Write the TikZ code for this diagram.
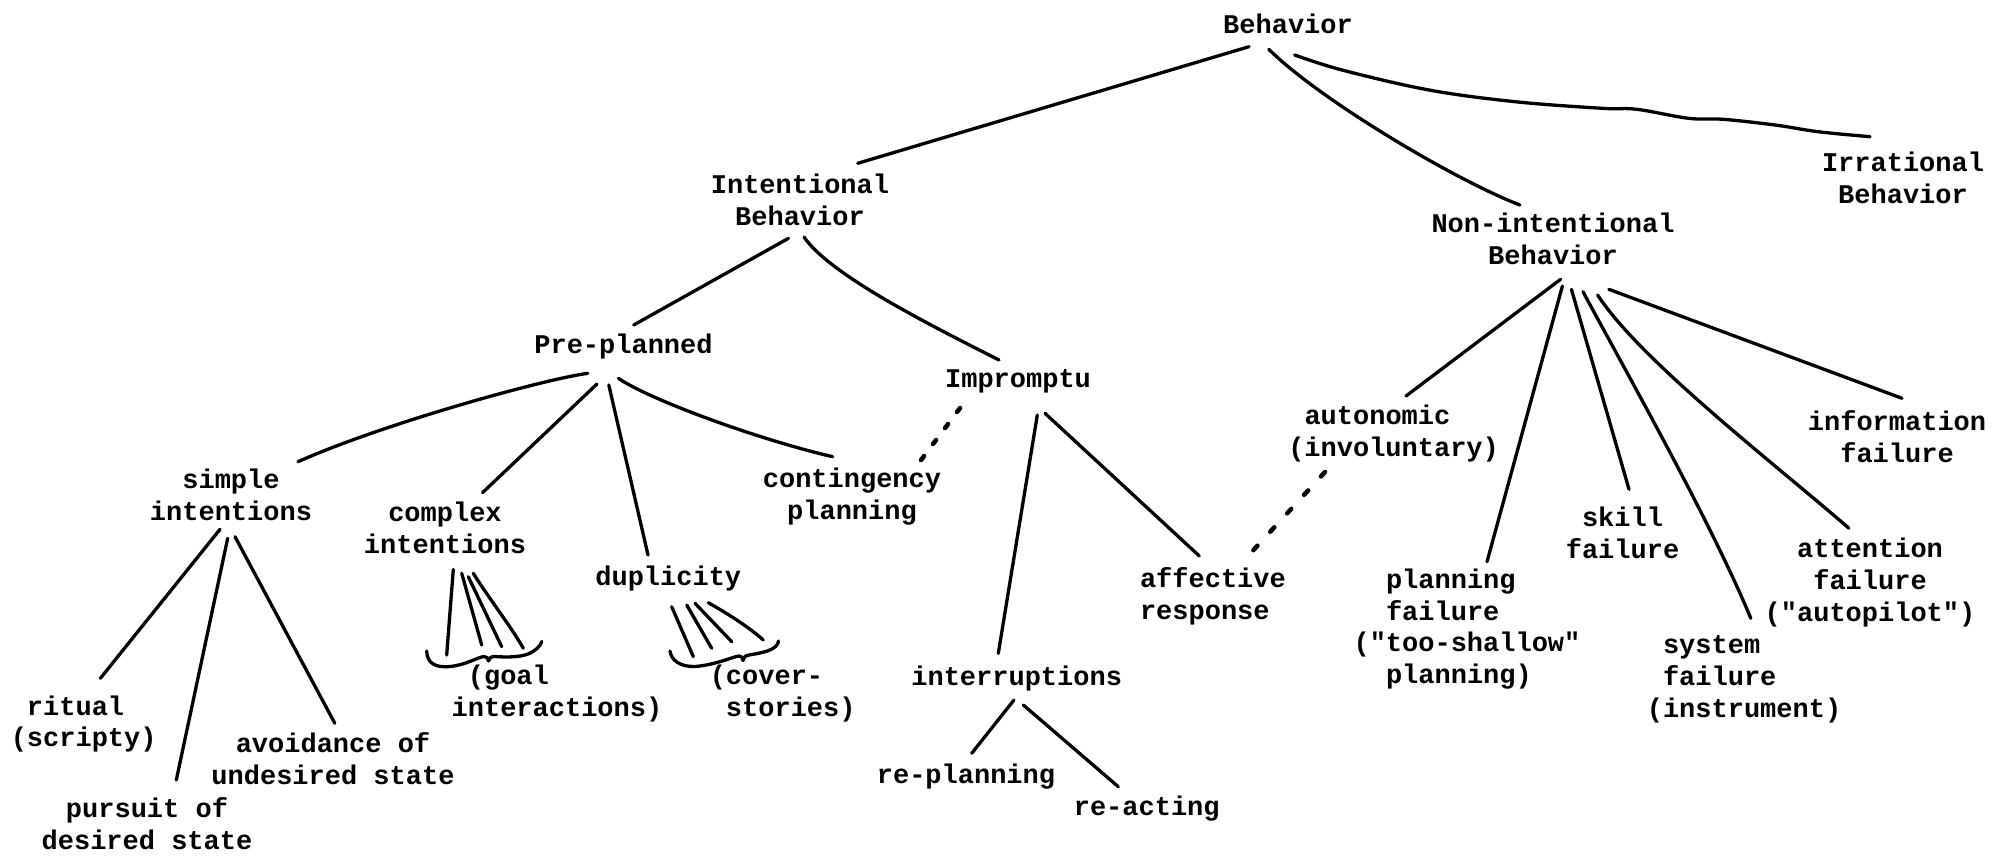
\documentclass[tikz,border=0pt]{standalone}
\usepackage{fontspec}
\newfontfamily\tw{Liberation Mono}
\usetikzlibrary{calc}
\begin{document}
\begin{tikzpicture}[x=1pt,y=-1pt,
  lbl/.style={inner sep=0pt, font=\tw\bfseries\fontsize{27}{31.7}\selectfont, align=center},
  lbll/.style={lbl, align=left},
  edge/.style={line width=3.3pt, line cap=round, line join=round},
  dots/.style={line width=4.5pt, line cap=round, dash pattern=on 5pt off 16pt},
  brc/.style={line width=3.3pt, line cap=round, line join=round}]
\useasboundingbox (0,0) rectangle (2007,856);
% nodes
\node[lbl] (B) at (1288,24) {Behavior};
\node[lbl] (IB) at (800,200) {Intentional\\Behavior};
\node[lbl] (IR) at (1903,177.5) {Irrational\\Behavior};
\node[lbl] (NI) at (1553,238.5) {Non-intentional\\Behavior};
\node[lbl] (PP) at (623.5,346.7) {Pre-planned};
\node[lbl] (IM) at (1018,381.7) {Impromptu};
\node[lbl] (SI) at (231,495) {simple\\intentions};
\node[lbl] (CI) at (445,527.5) {complex\\intentions};
\node[lbl] (CP) at (852,496.7) {contingency\\planning};
\node[lbl] (DU) at (668.3,578.3) {duplicity};
\node[lbll] (GI) at (557,693.3) {\phantom{i}(goal\\interactions)};
\node[lbll] (CS) at (790.8,693.3) {\llap{(}cover-\\stories)};
\node[lbll] (RS) at (91.8,724) {ritual\\\llap{(}scripty)};
\node[lbl] (AV) at (333,758.3) {avoidance of\\undesired state};
\node[lbl] (PU) at (147,823.3) {pursuit of\\desired state};
\node[lbl] (INT) at (1016.7,678.3) {interruptions};
\node[lbll] (AF) at (1212.9,596) {affective\\response};
\node[lbl] (RP) at (966,776.7) {re-planning};
\node[lbl] (RA) at (1146.7,808.3) {re-acting};
\node[lbll] (AU) at (1401.7,433.3) {autonomic\\\llap{(}involuntary)};
\node[lbll] (PF) at (1483.2,629.2) {planning\\failure\\\llap{("}too-shallow"\\planning)};
\node[lbl] (SK) at (1622.5,532.5) {skill\\failure};
\node[lbll] (SY) at (1752.1,679.2) {system\\failure\\\llap{(}instrument)};
\node[lbl] (AT) at (1870,582.5) {attention\\failure\\("autopilot")};
\node[lbl] (IF) at (1897,436.7) {information\\failure};
% top level
\draw[edge] ($(B)+(-39,22.7)$) -- ($(IB)+(57.7,-36.7)$);
\draw[edge] ($(B)+(-19.2,25.3)$) .. controls (1320,100) and (1455,180) .. ($(NI)+(-33.2,-33.5)$);
\coordinate (irS) at ($(B)+(6.7,31)$);
\coordinate (irE) at ($(IR)+(-33,-40.8)$);
\draw[edge] plot[smooth, tension=0.6] coordinates {(irS) (1342,70) (1429,90) (1515,101.7) (1602,108.3) (1636.6,109.3) (1688.5,118.3) (1723,119.3) (1775,125) (1818,131.7) (irE)};
% intentional
\draw[edge] ($(IB)+(-11.5,38.3)$) -- ($(PP)+(10.2,-21.7)$);
\draw[edge] ($(IB)+(4,37)$) .. controls (830,275) and (930,325) .. ($(IM)+(-19,-21.7)$);
% pre-planned
\draw[edge] ($(PP)+(-35.7,26.6)$) .. controls (540,380) and (380,425) .. ($(SI)+(67,-33.3)$);
\draw[edge] ($(PP)+(-26.5,37.3)$) -- ($(CI)+(37.5,-34.8)$);
\draw[edge] ($(PP)+(-14.7,38.3)$) -- ($(DU)+(-20.3,-23.3)$);
\draw[edge] ($(PP)+(-5.1,31.6)$) .. controls (650,400) and (760,440) .. ($(CP)+(-19.3,-40)$);
\draw[dots, dash pattern=on 5pt off 15pt] ($(IM)+(-58,26.3)$) -- ($(CP)+(69,-36.7)$);
% simple intentions
\draw[edge] ($(SI)+(-11,34.3)$) -- ($(RS)+(8.6,-45.7)$);
\draw[edge] ($(SI)+(-3.3,43.3)$) -- ($(PU)+(29.3,-43.3)$);
\draw[edge] ($(SI)+(4,41.7)$) -- ($(AV)+(1.8,-35)$);
% complex intentions
\draw[edge] ($(CI)+(8.3,42)$) -- ($(GI)+(-110.3,-38.3)$);
\draw[edge] ($(CI)+(16.7,45.8)$) -- ($(GI)+(-75.3,-48.3)$);
\draw[edge] ($(CI)+(23.3,49.2)$) -- ($(GI)+(-55.3,-46.6)$);
\draw[edge] ($(CI)+(28.3,45.8)$) .. controls (490,600) and (510,625) .. ($(GI)+(-33.7,-45)$);
\draw[brc] (426.7,651) .. controls (427,663) and (435,668) .. (450,666.5)
  .. controls (466,665) and (478,657) .. (484,656.5)
  .. controls (486.5,656.5) and (488,658) .. (488.5,661)
  .. controls (489,658) and (491,656.5) .. (495,656.5)
  .. controls (508,657.5) and (520,657) .. (528,654)
  .. controls (535,651) and (540,647) .. (541.7,641.5);
% duplicity
\draw[edge] ($(DU)+(3.4,28.4)$) -- ($(CS)+(-97.5,-36.6)$);
\draw[edge] ($(DU)+(18.4,26.7)$) -- ($(CS)+(-79.1,-45)$);
\draw[edge] ($(DU)+(26.7,25)$) -- ($(CS)+(-59.1,-51.6)$);
\draw[edge] ($(DU)+(40,24.4)$) .. controls (730,615) and (750,628) .. ($(CS)+(-27.5,-53.3)$);
\draw[brc] (670,651) .. controls (671,660) and (680,667) .. (695,666.5)
  .. controls (715,665) and (732,657) .. (739,656)
  .. controls (741.5,656) and (742.5,657.5) .. (743,660.5)
  .. controls (743.5,657.5) and (745,655.5) .. (749,655)
  .. controls (758,653.5) and (766,652) .. (771,649.5)
  .. controls (775,647.5) and (778,645) .. (778.5,641);
% impromptu
\draw[edge] ($(IM)+(19.3,33.3)$) -- ($(INT)+(-18.4,-25)$);
\draw[edge] ($(IM)+(27,31.6)$) -- ($(AF)+(-13.6,-40)$);
\draw[dots, dash pattern=on 6pt off 19pt] ($(AU)+(-76.7,38.7)$) -- ($(AF)+(35.1,-40)$);
\draw[edge] ($(INT)+(-2.7,21.7)$) -- ($(RP)+(5.7,-23.4)$);
\draw[edge] ($(INT)+(6.6,26.7)$) -- ($(RA)+(-28.4,-21.6)$);
% non-intentional
\draw[edge] ($(NI)+(7.6,40.8)$) -- ($(AU)+(4.3,-37.3)$);
\draw[edge] ($(NI)+(9.4,47.5)$) -- ($(PF)+(3.8,-67.5)$);
\draw[edge] ($(NI)+(18.4,50.8)$) -- ($(SK)+(6.5,-43.2)$);
\draw[edge] ($(NI)+(30,53.2)$) .. controls (1625,370) and (1710,520) .. ($(SY)+(-1.3,-60.9)$);
\draw[edge] ($(NI)+(44.6,56.5)$) .. controls (1640,360) and (1770,460) .. ($(AT)+(-21,-54.2)$);
\draw[edge] ($(NI)+(55.8,50.8)$) -- ($(IF)+(5,-38.4)$);
\end{tikzpicture}
\end{document}
